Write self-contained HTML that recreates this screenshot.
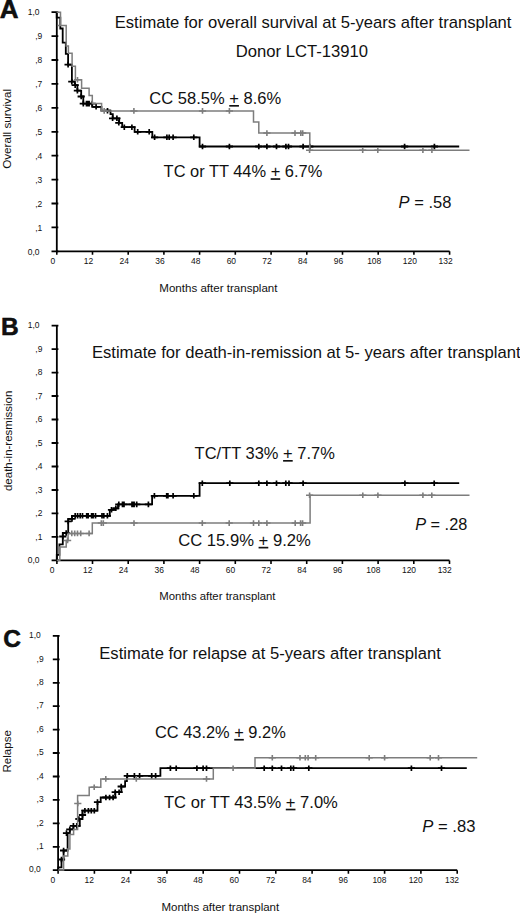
<!DOCTYPE html>
<html><head><meta charset="utf-8"><style>
html,body{margin:0;padding:0;background:#fff;}
body{width:520px;height:913px;overflow:hidden;}
svg{display:block;}
text{font-family:"Liberation Sans", sans-serif;fill:#111;}
</style></head><body>
<svg width="520" height="913" viewBox="0 0 520 913">
<path d="M56.8 12.2V251.3H449.6" stroke="#000" stroke-width="1.8" fill="none"/>
<path d="M51.5 251.3H58.3M51.5 227.4H58.3M51.5 203.5H58.3M51.5 179.6H58.3M51.5 155.7H58.3M51.5 131.8H58.3M51.5 107.8H58.3M51.5 83.9H58.3M51.5 60.0H58.3M51.5 36.1H58.3M51.5 12.2H58.3" stroke="#000" stroke-width="1.8" fill="none"/>
<path d="M56.8 251.3V254.8M92.5 251.3V254.8M128.2 251.3V254.8M163.9 251.3V254.8M199.6 251.3V254.8M235.3 251.3V254.8M271.1 251.3V254.8M306.8 251.3V254.8M342.5 251.3V254.8M378.2 251.3V254.8M413.9 251.3V254.8M449.6 251.3V254.8" stroke="#000" stroke-width="1.6" fill="none"/>
<text transform="translate(39.50 254.50) scale(0.9 1)" font-size="9.4" text-anchor="end" fill="#222">0,0</text>
<text transform="translate(42.30 230.59) scale(0.9 1)" font-size="9.4" text-anchor="end" fill="#222">,1</text>
<text transform="translate(42.30 206.68) scale(0.9 1)" font-size="9.4" text-anchor="end" fill="#222">,2</text>
<text transform="translate(42.30 182.77) scale(0.9 1)" font-size="9.4" text-anchor="end" fill="#222">,3</text>
<text transform="translate(42.30 158.86) scale(0.9 1)" font-size="9.4" text-anchor="end" fill="#222">,4</text>
<text transform="translate(42.30 134.95) scale(0.9 1)" font-size="9.4" text-anchor="end" fill="#222">,5</text>
<text transform="translate(42.30 111.04) scale(0.9 1)" font-size="9.4" text-anchor="end" fill="#222">,6</text>
<text transform="translate(42.30 87.13) scale(0.9 1)" font-size="9.4" text-anchor="end" fill="#222">,7</text>
<text transform="translate(42.30 63.22) scale(0.9 1)" font-size="9.4" text-anchor="end" fill="#222">,8</text>
<text transform="translate(42.30 39.31) scale(0.9 1)" font-size="9.4" text-anchor="end" fill="#222">,9</text>
<text transform="translate(39.50 15.40) scale(0.9 1)" font-size="9.4" text-anchor="end" fill="#222">1,0</text>
<text transform="translate(52.80 264.40) scale(0.9 1)" font-size="9.4" text-anchor="middle" fill="#222">0</text>
<text transform="translate(88.51 264.40) scale(0.9 1)" font-size="9.4" text-anchor="middle" fill="#222">12</text>
<text transform="translate(124.22 264.40) scale(0.9 1)" font-size="9.4" text-anchor="middle" fill="#222">24</text>
<text transform="translate(159.93 264.40) scale(0.9 1)" font-size="9.4" text-anchor="middle" fill="#222">36</text>
<text transform="translate(195.64 264.40) scale(0.9 1)" font-size="9.4" text-anchor="middle" fill="#222">48</text>
<text transform="translate(231.35 264.40) scale(0.9 1)" font-size="9.4" text-anchor="middle" fill="#222">60</text>
<text transform="translate(267.05 264.40) scale(0.9 1)" font-size="9.4" text-anchor="middle" fill="#222">72</text>
<text transform="translate(302.76 264.40) scale(0.9 1)" font-size="9.4" text-anchor="middle" fill="#222">84</text>
<text transform="translate(338.47 264.40) scale(0.9 1)" font-size="9.4" text-anchor="middle" fill="#222">96</text>
<text transform="translate(374.18 264.40) scale(0.9 1)" font-size="9.4" text-anchor="middle" fill="#222">108</text>
<text transform="translate(409.89 264.40) scale(0.9 1)" font-size="9.4" text-anchor="middle" fill="#222">120</text>
<text transform="translate(445.60 264.40) scale(0.9 1)" font-size="9.4" text-anchor="middle" fill="#222">132</text>
<path d="M56.85 325.6V560.4H449.5" stroke="#000" stroke-width="1.8" fill="none"/>
<path d="M51.6 560.4H58.4M51.6 536.9H58.4M51.6 513.4H58.4M51.6 490.0H58.4M51.6 466.5H58.4M51.6 443.0H58.4M51.6 419.5H58.4M51.6 396.0H58.4M51.6 372.6H58.4M51.6 349.1H58.4M51.6 325.6H58.4" stroke="#000" stroke-width="1.8" fill="none"/>
<path d="M56.9 560.4V563.9M92.5 560.4V563.9M128.2 560.4V563.9M163.9 560.4V563.9M199.6 560.4V563.9M235.3 560.4V563.9M271.0 560.4V563.9M306.7 560.4V563.9M342.4 560.4V563.9M378.1 560.4V563.9M413.8 560.4V563.9M449.5 560.4V563.9" stroke="#000" stroke-width="1.6" fill="none"/>
<text transform="translate(39.55 563.10) scale(0.9 1)" font-size="9.4" text-anchor="end" fill="#222">0,0</text>
<text transform="translate(42.35 539.62) scale(0.9 1)" font-size="9.4" text-anchor="end" fill="#222">,1</text>
<text transform="translate(42.35 516.14) scale(0.9 1)" font-size="9.4" text-anchor="end" fill="#222">,2</text>
<text transform="translate(42.35 492.66) scale(0.9 1)" font-size="9.4" text-anchor="end" fill="#222">,3</text>
<text transform="translate(42.35 469.18) scale(0.9 1)" font-size="9.4" text-anchor="end" fill="#222">,4</text>
<text transform="translate(42.35 445.70) scale(0.9 1)" font-size="9.4" text-anchor="end" fill="#222">,5</text>
<text transform="translate(42.35 422.22) scale(0.9 1)" font-size="9.4" text-anchor="end" fill="#222">,6</text>
<text transform="translate(42.35 398.74) scale(0.9 1)" font-size="9.4" text-anchor="end" fill="#222">,7</text>
<text transform="translate(42.35 375.26) scale(0.9 1)" font-size="9.4" text-anchor="end" fill="#222">,8</text>
<text transform="translate(42.35 351.78) scale(0.9 1)" font-size="9.4" text-anchor="end" fill="#222">,9</text>
<text transform="translate(39.55 328.30) scale(0.9 1)" font-size="9.4" text-anchor="end" fill="#222">1,0</text>
<text transform="translate(52.05 572.50) scale(0.9 1)" font-size="9.4" text-anchor="middle" fill="#222">0</text>
<text transform="translate(87.75 572.50) scale(0.9 1)" font-size="9.4" text-anchor="middle" fill="#222">12</text>
<text transform="translate(123.44 572.50) scale(0.9 1)" font-size="9.4" text-anchor="middle" fill="#222">24</text>
<text transform="translate(159.14 572.50) scale(0.9 1)" font-size="9.4" text-anchor="middle" fill="#222">36</text>
<text transform="translate(194.83 572.50) scale(0.9 1)" font-size="9.4" text-anchor="middle" fill="#222">48</text>
<text transform="translate(230.53 572.50) scale(0.9 1)" font-size="9.4" text-anchor="middle" fill="#222">60</text>
<text transform="translate(266.22 572.50) scale(0.9 1)" font-size="9.4" text-anchor="middle" fill="#222">72</text>
<text transform="translate(301.92 572.50) scale(0.9 1)" font-size="9.4" text-anchor="middle" fill="#222">84</text>
<text transform="translate(337.61 572.50) scale(0.9 1)" font-size="9.4" text-anchor="middle" fill="#222">96</text>
<text transform="translate(373.31 572.50) scale(0.9 1)" font-size="9.4" text-anchor="middle" fill="#222">108</text>
<text transform="translate(409.00 572.50) scale(0.9 1)" font-size="9.4" text-anchor="middle" fill="#222">120</text>
<text transform="translate(444.70 572.50) scale(0.9 1)" font-size="9.4" text-anchor="middle" fill="#222">132</text>
<path d="M58.1 635.9V870.2H457.2" stroke="#000" stroke-width="1.8" fill="none"/>
<path d="M52.8 870.2H59.6M52.8 846.8H59.6M52.8 823.3H59.6M52.8 799.9H59.6M52.8 776.5H59.6M52.8 753.0H59.6M52.8 729.6H59.6M52.8 706.2H59.6M52.8 682.8H59.6M52.8 659.3H59.6M52.8 635.9H59.6" stroke="#000" stroke-width="1.8" fill="none"/>
<path d="M58.1 870.2V873.7M94.4 870.2V873.7M130.7 870.2V873.7M166.9 870.2V873.7M203.2 870.2V873.7M239.5 870.2V873.7M275.8 870.2V873.7M312.1 870.2V873.7M348.4 870.2V873.7M384.6 870.2V873.7M420.9 870.2V873.7M457.2 870.2V873.7" stroke="#000" stroke-width="1.6" fill="none"/>
<text transform="translate(40.80 872.40) scale(0.9 1)" font-size="9.4" text-anchor="end" fill="#222">0,0</text>
<text transform="translate(43.60 848.97) scale(0.9 1)" font-size="9.4" text-anchor="end" fill="#222">,1</text>
<text transform="translate(43.60 825.54) scale(0.9 1)" font-size="9.4" text-anchor="end" fill="#222">,2</text>
<text transform="translate(43.60 802.11) scale(0.9 1)" font-size="9.4" text-anchor="end" fill="#222">,3</text>
<text transform="translate(43.60 778.68) scale(0.9 1)" font-size="9.4" text-anchor="end" fill="#222">,4</text>
<text transform="translate(43.60 755.25) scale(0.9 1)" font-size="9.4" text-anchor="end" fill="#222">,5</text>
<text transform="translate(43.60 731.82) scale(0.9 1)" font-size="9.4" text-anchor="end" fill="#222">,6</text>
<text transform="translate(43.60 708.39) scale(0.9 1)" font-size="9.4" text-anchor="end" fill="#222">,7</text>
<text transform="translate(43.60 684.96) scale(0.9 1)" font-size="9.4" text-anchor="end" fill="#222">,8</text>
<text transform="translate(43.60 661.53) scale(0.9 1)" font-size="9.4" text-anchor="end" fill="#222">,9</text>
<text transform="translate(40.80 638.10) scale(0.9 1)" font-size="9.4" text-anchor="end" fill="#222">1,0</text>
<text transform="translate(52.90 882.50) scale(0.9 1)" font-size="9.4" text-anchor="middle" fill="#222">0</text>
<text transform="translate(89.18 882.50) scale(0.9 1)" font-size="9.4" text-anchor="middle" fill="#222">12</text>
<text transform="translate(125.46 882.50) scale(0.9 1)" font-size="9.4" text-anchor="middle" fill="#222">24</text>
<text transform="translate(161.75 882.50) scale(0.9 1)" font-size="9.4" text-anchor="middle" fill="#222">36</text>
<text transform="translate(198.03 882.50) scale(0.9 1)" font-size="9.4" text-anchor="middle" fill="#222">48</text>
<text transform="translate(234.31 882.50) scale(0.9 1)" font-size="9.4" text-anchor="middle" fill="#222">60</text>
<text transform="translate(270.59 882.50) scale(0.9 1)" font-size="9.4" text-anchor="middle" fill="#222">72</text>
<text transform="translate(306.87 882.50) scale(0.9 1)" font-size="9.4" text-anchor="middle" fill="#222">84</text>
<text transform="translate(343.15 882.50) scale(0.9 1)" font-size="9.4" text-anchor="middle" fill="#222">96</text>
<text transform="translate(379.44 882.50) scale(0.9 1)" font-size="9.4" text-anchor="middle" fill="#222">108</text>
<text transform="translate(415.72 882.50) scale(0.9 1)" font-size="9.4" text-anchor="middle" fill="#222">120</text>
<text transform="translate(452.00 882.50) scale(0.9 1)" font-size="9.4" text-anchor="middle" fill="#222">132</text>
<text x="-0.3" y="18" font-size="26" text-anchor="start" font-weight="bold" font-style="normal" stroke="#000" stroke-width="0.5">A</text>
<text x="1.0" y="334.6" font-size="24.5" text-anchor="start" font-weight="bold" font-style="normal" stroke="#000" stroke-width="0.5">B</text>
<text x="3.2" y="646.6" font-size="24.5" text-anchor="start" font-weight="bold" font-style="normal" stroke="#000" stroke-width="0.5">C</text>
<g transform="translate(114.75 27.80) scale(1.0007 1)"><text x="0" y="0" font-size="16.6" font-weight="normal">Estimate for overall survival at 5-years after transplant</text></g>
<g transform="translate(235.70 57.20) scale(1.0030 1)"><text x="0" y="0" font-size="16.6" font-weight="normal">Donor LCT-13910</text></g>
<g transform="translate(149.30 104.00) scale(0.9970 1)"><text x="0" y="0" font-size="16.6" font-weight="normal">CC 58.5% <tspan text-decoration="underline">+</tspan> 8.6%</text></g>
<g transform="translate(163.61 177.20) scale(0.9899 1)"><text x="0" y="0" font-size="16.6" font-weight="normal">TC or TT 44% <tspan text-decoration="underline">+</tspan> 6.7%</text></g>
<g transform="translate(398.60 208.10) scale(0.9962 1)"><text x="0" y="0" font-size="16.6" font-weight="normal"><tspan font-style="italic">P</tspan> = .58</text></g>
<g transform="translate(91.89 357.50) scale(1.0015 1)"><text x="0" y="0" font-size="16.6" font-weight="normal">Estimate for death-in-remission at 5- years after transplant</text></g>
<g transform="translate(194.60 459.00) scale(0.9928 1)"><text x="0" y="0" font-size="16.6" font-weight="normal">TC/TT 33% <tspan text-decoration="underline">+</tspan> 7.7%</text></g>
<g transform="translate(178.19 545.80) scale(1.0015 1)"><text x="0" y="0" font-size="16.6" font-weight="normal">CC 15.9% <tspan text-decoration="underline">+</tspan> 9.2%</text></g>
<g transform="translate(415.21 529.60) scale(0.9809 1)"><text x="0" y="0" font-size="16.6" font-weight="normal"><tspan font-style="italic">P</tspan> = .28</text></g>
<g transform="translate(99.30 658.80) scale(1.0012 1)"><text x="0" y="0" font-size="16.6" font-weight="normal">Estimate for relapse at 5-years after transplant</text></g>
<g transform="translate(155.01 737.90) scale(0.9878 1)"><text x="0" y="0" font-size="16.6" font-weight="normal">CC 43.2% <tspan text-decoration="underline">+</tspan> 9.2%</text></g>
<g transform="translate(164.00 807.70) scale(0.9977 1)"><text x="0" y="0" font-size="16.6" font-weight="normal">TC or TT 43.5% <tspan text-decoration="underline">+</tspan> 7.0%</text></g>
<g transform="translate(422.30 831.60) scale(1.0001 1)"><text x="0" y="0" font-size="16.6" font-weight="normal"><tspan font-style="italic">P</tspan> = .83</text></g>
<g transform="translate(159.31 292.40) scale(0.9800 1)"><text x="0" y="0" font-size="11.8" font-weight="normal">Months after transplant</text></g>
<g transform="translate(159.33 600.40) scale(0.9634 1)"><text x="0" y="0" font-size="11.8" font-weight="normal">Months after transplant</text></g>
<g transform="translate(161.42 910.60) scale(0.9765 1)"><text x="0" y="0" font-size="11.8" font-weight="normal">Months after transplant</text></g>
<text x="0" y="0" font-size="11.7" text-anchor="middle" transform="translate(11.0 128.9) rotate(-90)">Overall survival</text>
<text x="0" y="0" font-size="11.5" text-anchor="middle" transform="translate(12.3 440.85) rotate(-90)">death-in-resmission</text>
<text x="0" y="0" font-size="11.6" text-anchor="middle" transform="translate(11.4 751.3) rotate(-90)">Relapse</text>
<path d="M56.7 12.2V17.7H60.3V28.5H62.7V42.7H65.8V53.8H68.1V64.6H71.9V81.7H74.8V85.2H77.4V90.7H81.2V96.5H83.3V103.6H92.2V106.8H101.4V110.7H110.5V114.1H112.8V118.3H119.2V122.8H122.2V127.2H134.6V131.8H152.3V137.3H199.6V146.5H459.2" stroke="#000" stroke-width="1.8" fill="none" stroke-linejoin="miter" stroke-linecap="butt"/>
<path d="M64.5 64.6H71.7M68.2 81.7H75.4M71.6 85.2H78.8M73.8 90.7H81.0M77.6 96.5H84.8M79.7 103.6H86.9M82.9 103.6H90.1M84.1 103.6H91.3M85.5 103.6H92.7M88.6 103.6H95.8M92.5 106.8H99.7M103.9 110.7H111.1M109.0 118.3H116.2M113.3 118.3H120.5M115.2 122.8H122.4M120.7 127.2H127.9M128.3 127.2H135.5M134.1 131.8H141.3M145.6 131.8H152.8M151.0 137.3H158.2M163.3 137.3H170.5M165.6 137.3H172.8M169.5 137.3H176.7M190.2 137.3H197.4M198.9 146.5H206.1M225.8 146.5H233.0M255.2 146.5H262.4M263.3 146.5H270.5M272.9 146.5H280.1M282.3 146.5H289.5M284.9 146.5H292.1M299.5 146.5H306.7M306.2 146.5H313.4M401.0 146.5H408.2M430.8 146.5H438.0" stroke="#000" stroke-width="1.8" fill="none"/>
<path d="M68.1 61.8V67.4M71.8 78.9V84.5M75.2 82.4V88.0M77.4 87.9V93.5M81.2 93.7V99.3M83.3 100.8V106.4M86.5 100.8V106.4M87.7 100.8V106.4M89.1 100.8V106.4M92.2 100.8V106.4M96.1 104.0V109.6M107.5 107.9V113.5M112.6 115.5V121.1M116.9 115.5V121.1M118.8 120.0V125.6M124.3 124.4V130.0M131.9 124.4V130.0M137.7 129.0V134.6M149.2 129.0V134.6M154.6 134.5V140.1M166.9 134.5V140.1M169.2 134.5V140.1M173.1 134.5V140.1M193.8 134.5V140.1M202.5 143.7V149.3M229.4 143.7V149.3M258.8 143.7V149.3M266.9 143.7V149.3M276.5 143.7V149.3M285.9 143.7V149.3M288.5 143.7V149.3M303.1 143.7V149.3M309.8 143.7V149.3M404.6 143.7V149.3M434.4 143.7V149.3" stroke="#000" stroke-width="1.7" fill="none"/>
<path d="M56.7 12.2H60.5V25.5H66.2V45.9H68.4V53.3H72.1V66.2H75.4V79.8H81.6V88.2H89.1V95.5H92.3V103.4H101.6V110.9H253.5V121.9H258.8V133.1H309.8V150.2H469.5" stroke="#7d7d7d" stroke-width="1.5" fill="none" stroke-linejoin="miter" stroke-linecap="butt"/>
<path d="M57.6 25.5H60.5" stroke="#7d7d7d" stroke-width="1.5" fill="none" stroke-linejoin="miter" stroke-linecap="butt"/>
<path d="M73.9 79.8H81.1M100.6 110.9H107.8M130.3 110.9H137.5M198.9 110.9H206.1M225.8 110.9H233.0M263.3 133.1H270.5M291.4 133.1H298.6M297.2 133.1H304.4M299.1 133.1H306.3M306.0 150.2H313.2M359.1 150.2H366.3M374.2 150.2H381.4M419.3 150.2H426.5M428.3 150.2H435.5" stroke="#7d7d7d" stroke-width="1.5" fill="none"/>
<path d="M77.5 77.0V82.6M104.2 108.1V113.7M133.9 108.1V113.7M202.5 108.1V113.7M229.4 108.1V113.7M266.9 130.3V135.9M295 130.3V135.9M300.8 130.3V135.9M302.7 130.3V135.9M309.6 147.4V153.0M362.7 147.4V153.0M377.8 147.4V153.0M422.9 147.4V153.0M431.9 147.4V153.0" stroke="#7d7d7d" stroke-width="1.6" fill="none"/>
<path d="M56.8 560.2V554.9H59.4V544.3H62.8V533H68.2V518.9H71.9V515.8H109.8V509.8H113.8V508.3H118V504.4H152.1V495.8H199.6V483.2H459.2" stroke="#000" stroke-width="1.8" fill="none" stroke-linejoin="miter" stroke-linecap="butt"/>
<path d="M59.2 536.5H66.4M62.6 533H69.8M64.6 521.4H71.8M68.4 518.9H75.6M71.6 515.8H78.8M74.0 515.8H81.2M76.6 515.8H83.8M78.9 515.8H86.1M83.1 515.8H90.3M84.6 515.8H91.8M88.0 515.8H95.2M89.5 515.8H96.7M91.9 515.8H99.1M98.4 515.8H105.6M100.2 515.8H107.4M103.8 515.8H111.0M107.9 509.8H115.1M112.2 508.3H119.4M115.2 504.4H122.4M118.9 504.4H126.1M120.4 504.4H127.6M128.4 504.4H135.6M129.4 504.4H136.6M130.5 504.4H137.7M133.1 504.4H140.3M144.8 504.4H152.0M150.8 495.8H158.0M163.1 495.8H170.3M164.3 495.8H171.5M169.5 495.8H176.7M190.2 495.8H197.4M198.7 483.2H205.9M226.2 483.2H233.4M255.2 483.2H262.4M263.3 483.2H270.5M272.9 483.2H280.1M282.2 483.2H289.4M285.4 483.2H292.6M299.5 483.2H306.7M401.3 483.2H408.5M430.6 483.2H437.8" stroke="#000" stroke-width="1.8" fill="none"/>
<path d="M62.8 533.7V539.3M66.2 530.2V535.8M68.2 518.6V524.2M72 516.1V521.7M75.2 513.0V518.6M77.6 513.0V518.6M80.2 513.0V518.6M82.5 513.0V518.6M86.7 513.0V518.6M88.2 513.0V518.6M91.6 513.0V518.6M93.1 513.0V518.6M95.5 513.0V518.6M102 513.0V518.6M103.8 513.0V518.6M107.4 513.0V518.6M111.5 507.0V512.6M115.8 505.5V511.1M118.8 501.6V507.2M122.5 501.6V507.2M124 501.6V507.2M132 501.6V507.2M133 501.6V507.2M134.1 501.6V507.2M136.7 501.6V507.2M148.4 501.6V507.2M154.4 493.0V498.6M166.7 493.0V498.6M167.9 493.0V498.6M173.1 493.0V498.6M193.8 493.0V498.6M202.3 480.4V486.0M229.8 480.4V486.0M258.8 480.4V486.0M266.9 480.4V486.0M276.5 480.4V486.0M285.8 480.4V486.0M289 480.4V486.0M303.1 480.4V486.0M404.9 480.4V486.0M434.2 480.4V486.0" stroke="#000" stroke-width="1.7" fill="none"/>
<path d="M56.8 560.2H59.8V547.1H66.2V540.4H68.1V533.4H92.3V523.1H310.1V495.2H469.5" stroke="#7d7d7d" stroke-width="1.5" fill="none" stroke-linejoin="miter" stroke-linecap="butt"/>
<path d="M64.0 540.4H71.2M68.2 533.4H75.4M71.1 533.4H78.3M73.9 533.4H81.1M77.1 533.4H84.3M85.5 533.4H92.7M97.7 523.1H104.9M99.7 523.1H106.9M130.4 523.1H137.6M198.7 523.1H205.9M225.6 523.1H232.8M249.9 523.1H257.1M255.2 523.1H262.4M263.3 523.1H270.5M291.6 523.1H298.8M297.0 523.1H304.2M299.0 523.1H306.2M306.0 495.2H313.2M359.2 495.2H366.4M374.3 495.2H381.5M419.3 495.2H426.5M428.2 495.2H435.4" stroke="#7d7d7d" stroke-width="1.5" fill="none"/>
<path d="M67.6 537.6V543.2M71.8 530.6V536.2M74.7 530.6V536.2M77.5 530.6V536.2M80.7 530.6V536.2M89.1 530.6V536.2M101.3 520.3V525.9M103.3 520.3V525.9M134 520.3V525.9M202.3 520.3V525.9M229.2 520.3V525.9M253.5 520.3V525.9M258.8 520.3V525.9M266.9 520.3V525.9M295.2 520.3V525.9M300.6 520.3V525.9M302.6 520.3V525.9M309.6 492.4V498.0M362.8 492.4V498.0M377.9 492.4V498.0M422.9 492.4V498.0M431.8 492.4V498.0" stroke="#7d7d7d" stroke-width="1.6" fill="none"/>
<path d="M58.3 869.9V867.4H61.5V859.5H63.6V850.5H67.6V833.1H69.8V829.4H73.4V825.9H79.8V819H82.5V810.7H97.5V802.1H100.7V797.5H115.3V792.2H121.4V786.5H125.1V781.2H126.9V775.9H160.4V768.2H466.8" stroke="#000" stroke-width="1.8" fill="none" stroke-linejoin="miter" stroke-linecap="butt"/>
<path d="M57.9 859.5H65.1M60.0 850.5H67.2M62.9 833.1H70.1M66.2 829.4H73.4M69.8 825.9H77.0M73.2 825.9H80.4M75.3 819H82.5M78.9 815H86.1M81.3 810.7H88.5M84.8 810.7H92.0M87.7 810.7H94.9M90.7 810.7H97.9M93.9 802.1H101.1M102.3 797.5H109.5M106.0 797.5H113.2M109.5 797.5H116.7M111.6 792.2H118.8M115.5 792.2H122.7M117.6 786.5H124.8M123.7 775.9H130.9M130.8 775.9H138.0M136.0 775.9H143.2M148.1 775.9H155.3M152.0 775.9H159.2M166.8 768.2H174.0M172.6 768.2H179.8M193.3 768.2H200.5M199.5 768.2H206.7M202.9 768.2H210.1M260.6 768.2H267.8M268.7 768.2H275.9M277.9 768.2H285.1M287.2 768.2H294.4M289.9 768.2H297.1M305.2 768.2H312.4M407.8 768.2H415.0M437.9 768.2H445.1" stroke="#000" stroke-width="1.8" fill="none"/>
<path d="M61.5 856.7V862.3M63.6 847.7V853.3M66.5 830.3V835.9M69.8 826.6V832.2M73.4 823.1V828.7M76.8 823.1V828.7M78.9 816.2V821.8M82.5 812.2V817.8M84.9 807.9V813.5M88.4 807.9V813.5M91.3 807.9V813.5M94.3 807.9V813.5M97.5 799.3V804.9M105.9 794.7V800.3M109.6 794.7V800.3M113.1 794.7V800.3M115.2 789.4V795.0M119.1 789.4V795.0M121.2 783.7V789.3M127.3 773.1V778.7M134.4 773.1V778.7M139.6 773.1V778.7M151.7 773.1V778.7M155.6 773.1V778.7M170.4 765.4V771.0M176.2 765.4V771.0M196.9 765.4V771.0M203.1 765.4V771.0M206.5 765.4V771.0M264.2 765.4V771.0M272.3 765.4V771.0M281.5 765.4V771.0M290.8 765.4V771.0M293.5 765.4V771.0M308.8 765.4V771.0M411.4 765.4V771.0M441.5 765.4V771.0" stroke="#000" stroke-width="1.7" fill="none"/>
<path d="M58.3 869.9H63.6V856.1H67.8V848.9H69.9V834.5H73.6V829.4H77.6V795.4H89.2V787.3H100.8V778.9H213.3V768.2H255V757.8H477.2" stroke="#7d7d7d" stroke-width="1.5" fill="none" stroke-linejoin="miter" stroke-linecap="butt"/>
<path d="M74.2 803.5H81.4M90.6 787.3H97.8M102.2 778.9H109.4M132.7 778.9H139.9M202.9 778.9H210.1M229.5 768.2H236.7M268.7 757.8H275.9M296.4 757.8H303.6M301.7 757.8H308.9M304.5 757.8H311.7M312.1 757.8H319.3M365.6 757.8H372.8M381.0 757.8H388.2M426.6 757.8H433.8M434.9 757.8H442.1" stroke="#7d7d7d" stroke-width="1.5" fill="none"/>
<path d="M77.8 800.7V806.3M94.2 784.5V790.1M105.8 776.1V781.7M136.3 776.1V781.7M206.5 776.1V781.7M233.1 765.4V771.0M272.3 755.0V760.6M300 755.0V760.6M305.3 755.0V760.6M308.1 755.0V760.6M315.7 755.0V760.6M369.2 755.0V760.6M384.6 755.0V760.6M430.2 755.0V760.6M438.5 755.0V760.6" stroke="#7d7d7d" stroke-width="1.6" fill="none"/>
</svg>
</body></html>
